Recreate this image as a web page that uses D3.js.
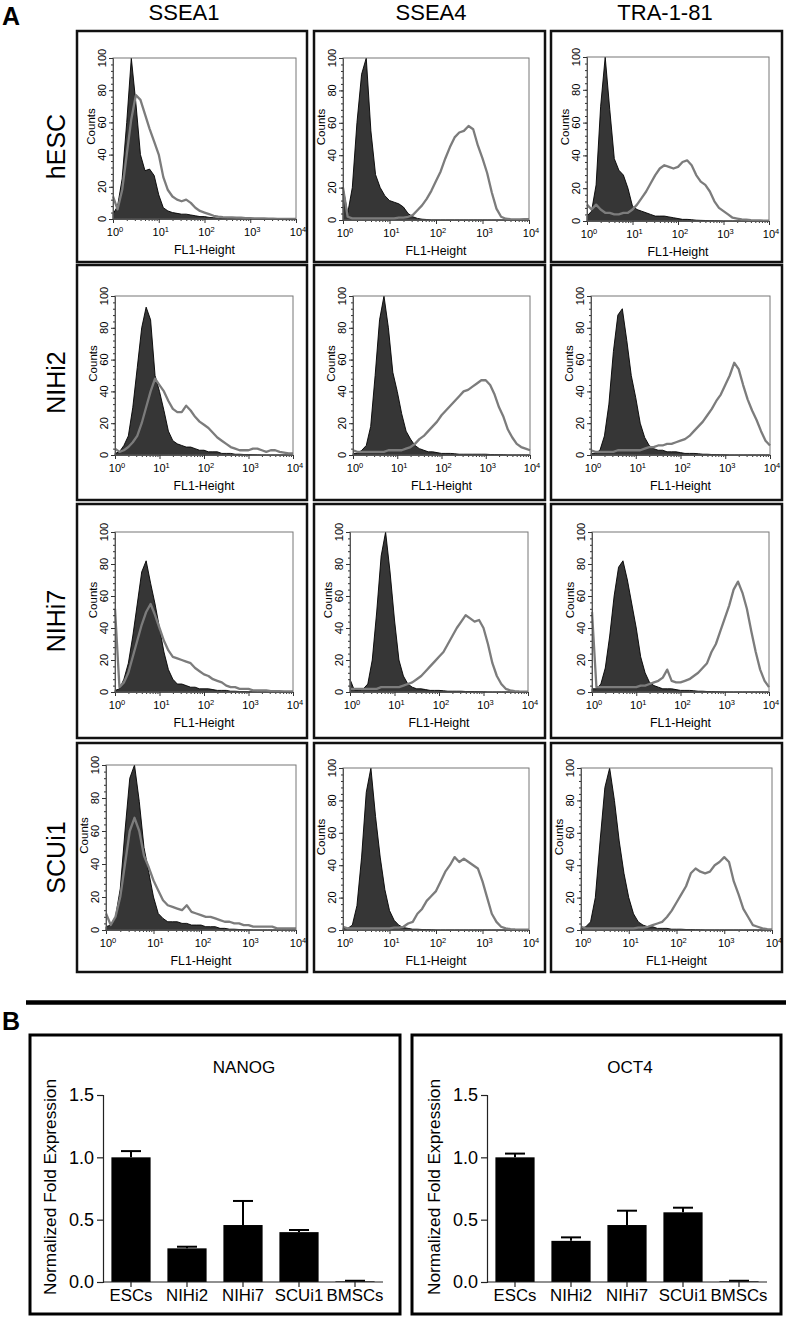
<!DOCTYPE html>
<html><head><meta charset="utf-8">
<script src="https://cdn.jsdelivr.net/npm/d3@7/dist/d3.min.js"></script>
<style>
body{margin:0;background:#fff}
svg{display:block}
text{font-family:"Liberation Sans",Arial,Helvetica,sans-serif;fill:#000}
</style>
</head><body>
<svg id="fig" width="787" height="1317"></svg>
<script>
// ---------------- DATA ----------------
const markers = ["SSEA1", "SSEA4", "TRA-1-81"];
const cellLines = ["hESC", "NIHi2", "NIHi7", "SCUi1"];
const decadeTicks = [1, 10, 100, 1000, 10000];
const decadeExp = ["0", "1", "2", "3", "4"];
const countTicks = [0, 20, 40, 60, 80, 100];
// bin centres, in decades of FL1-Height (10^d)
const binDecade = [0.0,0.1,0.2,0.3,0.4,0.5,0.6,0.7,0.8,0.9,1.0,1.1,1.2,1.3,1.4,1.5,1.6,1.7,1.8,1.9,2.0,
                   2.1,2.2,2.3,2.4,2.5,2.6,2.7,2.8,2.9,3.0,3.1,3.2,3.3,3.4,3.5,3.6,3.7,3.8,3.9,4.0];

// isotype control (filled) and stained (grey line) counts, per cell line x marker
const hESC_SSEA1_ctrl  = [3,8,25,60,100,72,40,30,31,27,15,7,5,4,3.5,3,3,2.5,2,1.5,1.5,1,0.8,0.5,0.4,0.3,0.2,0.2,0.1,0.1,0,0,0,0,0,0,0,0,0,0,0];
const hESC_SSEA1_stain = [14,6,18,40,62,77,74,65,56,48,40,26,18,14,12,11,12,10,7,5,4,3,2,1.5,1.2,1,1,0.8,0.8,0.6,0.5,0.4,0.3,0.3,0.2,0.2,0.1,0.1,0,0,0];
const hESC_SSEA4_ctrl  = [20,4,20,60,90,100,55,28,20,15,12,11,10,8,4,2,1,0.5,0.3,0,0,0,0,0,0,0,0,0,0,0,0,0,0,0,0,0,0,0,0,0,0];
const hESC_SSEA4_stain = [20,2,1,1,1,1,1,1,1,1,1,1,1.5,1.5,2,3,6,9,13,18,24,30,38,45,51,54,55,58,56,46,38,29,17,7,2,0.8,0.5,0.3,0.3,0.5,0.5];
const hESC_TRA_ctrl    = [3,6,22,70,100,68,38,31,28,20,9,7,6,5,4,3,3,3,2.5,2,1.5,1,1,0.8,0.5,0.4,0.3,0.2,0.2,0.1,0,0,0,0,0,0,0,0,0,0,0];
const hESC_TRA_stain   = [10,7,10,7,5,5,4,4,5,5,7,10,14,18,23,28,32,34,33,32,33,36,37,34,28,24,22,18,12,8,6,4,2,1.5,1,0.8,0.5,0.4,0.3,0.2,0.2];

const NIHi2_SSEA1_ctrl  = [1,2,6,12,30,55,80,93,85,50,40,28,15,9,7,6,5,5,4,3,3,2,2,2,1,1,1,0.5,0.5,0.3,0.3,0.2,0.1,0,0,0,0,0,0,0,0];
const NIHi2_SSEA1_stain = [4,2,3,5,8,12,20,30,40,48,44,40,34,29,27,27,31,28,24,21,19,17,14,11,9,7,5,4,3,3,3,4,4,3,2,3,3,2,1.5,1,1];
const NIHi2_SSEA4_ctrl  = [1,1,3,6,18,50,85,100,80,52,40,26,15,10,6,4,3,2,2,1.5,1,1,1,0.8,0.5,0.5,0.5,0.5,0.5,0.5,0.5,0.3,0.3,0.2,0.2,0,0,0,0,0,0];
const NIHi2_SSEA4_stain = [3,2,2,2,2,2,2,2,3,3,3,3,4,5,7,10,12,15,18,21,25,28,31,34,37,40,41,43,45,47,47,44,38,30,24,16,11,7,5,4,3];
const NIHi2_TRA_ctrl    = [1,1,3,12,32,65,88,92,72,50,36,20,11,6,4,3,3,2,2,2,1.5,1,1,1,0.8,0.5,0.5,0.3,0.3,0.2,0.1,0,0,0,0,0,0,0,0,0,0];
const NIHi2_TRA_stain   = [3,2,2,2,2,2,3,3,3,3,3,3,4,5,5,6,6,7,7,8,9,10,12,15,18,21,25,29,34,38,44,50,58,54,44,35,28,22,15,9,6];

const NIHi7_SSEA1_ctrl  = [1,2,8,18,35,55,75,82,68,55,40,25,14,8,5,5,4,3,3,2,2,2,1.5,1,1,1,0.5,0.5,0.3,0.3,0.2,0.1,0,0,0,0,0,0,0,0,0];
const NIHi7_SSEA1_stain = [52,3,6,12,22,32,42,50,55,48,40,32,26,22,21,20,19,18,15,13,11,10,8,7,6,4,3,3,2,2,2,1,1,1,1,0.5,0.5,0.5,0.3,0.3,0.3];
const NIHi7_SSEA4_ctrl  = [8,1,1,2,5,20,50,85,100,75,45,20,10,5,3,2,2,1.5,1,1,1,0.8,0.5,0.5,0.5,0.5,0.3,0.3,0.3,0.2,0.2,0,0,0,0,0,0,0,0,0,0];
const NIHi7_SSEA4_stain = [2,2,2,2,2,2,2,3,3,3,3,3,4,5,6,8,10,13,16,19,22,25,30,35,40,44,48,46,44,45,40,30,18,10,5,2,1,0.5,0.3,0.2,0.2];
const NIHi7_TRA_ctrl    = [2,2,5,15,35,60,78,82,70,55,40,22,12,6,4,3,2,2,2,1.5,1,1,1,0.8,0.5,0.5,0.3,0.3,0.2,0.1,0,0,0,0,0,0,0,0,0,0,0];
const NIHi7_TRA_stain   = [50,3,3,3,3,3,3,3,3,3,3,4,4,5,6,7,9,14,7,6,6,7,8,10,12,15,18,25,30,38,46,54,64,69,62,52,38,25,14,7,3];

const SCUi1_SSEA1_ctrl  = [2,3,8,25,60,92,100,78,50,35,20,10,7,5,5,5,4,4,3,3,3,2,2,2,1,1,0.5,0.5,0.3,0.2,0.1,0,0,0,0,0,0,0,0,0,0];
const SCUi1_SSEA1_stain = [10,3,8,20,40,60,68,60,45,38,30,24,18,15,14,13,12,15,11,10,9,8,8,7,6,5,5,4,4,3,3,2,2,2,2,2,1,1,1,1,1];
const SCUi1_SSEA4_ctrl  = [1,1,3,15,45,85,100,70,45,25,12,6,3,1.5,1,0.5,0.5,0.3,0.3,0.2,0,0,0,0,0,0,0,0,0,0,0,0,0,0,0,0,0,0,0,0,0];
const SCUi1_SSEA4_stain = [2,1,1,1,1,1,1,1,1,1,1,1.5,1.5,2,4,5,10,13,18,21,24,30,36,40,45,42,44,42,40,38,30,20,10,5,2,1,0.5,0.3,0.2,0.2,0.2];
const SCUi1_TRA_ctrl    = [1,2,5,20,55,88,100,80,55,35,20,10,5,3,2,2,1,1,1,0.5,0.5,0.5,0.3,0.3,0.2,0.1,0,0,0,0,0,0,0,0,0,0,0,0,0,0,0];
const SCUi1_TRA_stain   = [2,1,1,1,1,1,1,1,1,1,1,1,1.5,1.5,2,3,4,5,8,12,17,22,27,35,38,36,35,36,40,42,45,42,30,22,13,8,3,2,1,0.5,0.3];

// qPCR (panel B)
const qpcrGroups = ["ESCs", "NIHi2", "NIHi7", "SCUi1", "BMSCs"];
const qpcrTicks = [0.0, 0.5, 1.0, 1.5];
const nanogMean = [1.00, 0.27, 0.457, 0.40, 0.005];
const nanogErr  = [1.05, 0.283, 0.65, 0.417, 0.01];
const oct4Mean  = [1.00, 0.33, 0.457, 0.559, 0.005];
const oct4Err   = [1.03, 0.358, 0.572, 0.596, 0.01];

// ---------------- LAYOUT ----------------
const svg = d3.select("#fig");
const colBox = [[77, 307], [314, 545], [551, 782]];
const rowBox = [[31, 262], [265, 500], [504, 738], [743, 972]];
// plot rectangles [left, right, top, bottom] for each panel (row-major)
const plotRect = [
  [[113, 296, 58, 219], [343, 529, 58, 220], [587, 769, 57, 221]],
  [[115, 293, 296, 455], [353, 530, 296, 455], [591, 770, 296, 455]],
  [[115, 293, 532, 692], [350, 528, 532, 692], [592, 769, 532, 692]],
  [[106, 296, 765, 930], [343, 529, 768, 930], [581, 772, 768, 930]]
];
const series = [
  [[hESC_SSEA1_ctrl, hESC_SSEA1_stain], [hESC_SSEA4_ctrl, hESC_SSEA4_stain], [hESC_TRA_ctrl, hESC_TRA_stain]],
  [[NIHi2_SSEA1_ctrl, NIHi2_SSEA1_stain], [NIHi2_SSEA4_ctrl, NIHi2_SSEA4_stain], [NIHi2_TRA_ctrl, NIHi2_TRA_stain]],
  [[NIHi7_SSEA1_ctrl, NIHi7_SSEA1_stain], [NIHi7_SSEA4_ctrl, NIHi7_SSEA4_stain], [NIHi7_TRA_ctrl, NIHi7_TRA_stain]],
  [[SCUi1_SSEA1_ctrl, SCUi1_SSEA1_stain], [SCUi1_SSEA4_ctrl, SCUi1_SSEA4_stain], [SCUi1_TRA_ctrl, SCUi1_TRA_stain]]
];

// panel letters
svg.append("text").attr("x", 2).attr("y", 25).attr("font-size", 25).attr("font-weight", "bold").text("A");
svg.append("text").attr("x", 2).attr("y", 1030).attr("font-size", 25).attr("font-weight", "bold").text("B");

// column headers
const headerX = [184, 431, 665];
markers.forEach((m, i) => {
  svg.append("text").attr("x", headerX[i]).attr("y", 20).attr("text-anchor", "middle")
    .attr("font-size", 22).text(m);
});

// row labels
cellLines.forEach((c, r) => {
  const cy = (rowBox[r][0] + rowBox[r][1]) / 2;
  svg.append("text").attr("transform", `translate(65,${cy}) rotate(-90)`)
    .attr("text-anchor", "middle").attr("font-size", 25).text(c);
});

// minor log ticks
const minorLog = [];
[1, 10, 100, 1000].forEach(b => { for (let k = 2; k <= 9; k++) minorLog.push(b * k); });
const minorCounts = d3.range(0, 101, 4);

for (let r = 0; r < 4; r++) {
  for (let c = 0; c < 3; c++) {
    const [L, R, T, B] = plotRect[r][c];
    // outer box
    svg.append("rect").attr("x", colBox[c][0]).attr("y", rowBox[r][0])
      .attr("width", colBox[c][1] - colBox[c][0]).attr("height", rowBox[r][1] - rowBox[r][0])
      .attr("fill", "none").attr("stroke", "#111").attr("stroke-width", 2.5);

    const g = svg.append("g");
    const x = d3.scaleLog().domain([1, 10000]).range([L, R]);
    const y = d3.scaleLinear().domain([0, 100]).range([B, T]);
    const [ctrl, stain] = series[r][c];

    const area = d3.area().x((d, i) => x(Math.pow(10, binDecade[i]))).y0(B).y1(d => y(d));
    const line = d3.line().x((d, i) => x(Math.pow(10, binDecade[i]))).y(d => y(d));

    g.append("path").datum(ctrl).attr("d", area)
      .attr("fill", "#363636").attr("stroke", "#000").attr("stroke-width", 0.9);
    g.append("path").datum(stain).attr("d", line)
      .attr("fill", "none").attr("stroke", "#7c7c7c").attr("stroke-width", 2.3)
      .attr("stroke-linejoin", "round");

    // frame
    g.append("rect").attr("x", L).attr("y", T).attr("width", R - L).attr("height", B - T)
      .attr("fill", "none").attr("stroke", "#777").attr("stroke-width", 1);

    // x axis ticks
    const xa = g.append("g").attr("transform", `translate(0,${B})`);
    xa.call(d3.axisBottom(x).tickValues(minorLog).tickSize(2).tickFormat(""))
      .call(s => s.select(".domain").remove());
    xa.selectAll("line").attr("stroke", "#333");
    const xb = g.append("g").attr("transform", `translate(0,${B})`);
    xb.call(d3.axisBottom(x).tickValues(decadeTicks).tickSize(4).tickFormat(""))
      .call(s => s.select(".domain").attr("stroke", "#555"));
    xb.selectAll("line").attr("stroke", "#333");
    decadeTicks.forEach((v, i) => {
      const t = g.append("text").attr("x", x(v) + 2).attr("y", B + 17).attr("text-anchor", "middle")
        .attr("font-size", 11);
      t.append("tspan").text("10");
      t.append("tspan").attr("dy", -4).attr("font-size", 7.5).text(decadeExp[i]);
    });
    g.append("text").attr("x", (L + R) / 2).attr("y", B + 35).attr("text-anchor", "middle")
      .attr("font-size", 12.3).text("FL1-Height");

    // y axis ticks
    const ya = g.append("g").attr("transform", `translate(${L},0)`);
    ya.call(d3.axisLeft(y).tickValues(minorCounts).tickSize(2).tickFormat(""))
      .call(s => s.select(".domain").remove());
    ya.selectAll("line").attr("stroke", "#333");
    const yb = g.append("g").attr("transform", `translate(${L},0)`);
    yb.call(d3.axisLeft(y).tickValues(countTicks).tickSize(4).tickFormat(""))
      .call(s => s.select(".domain").attr("stroke", "#555"));
    yb.selectAll("line").attr("stroke", "#333");
    countTicks.forEach(v => {
      g.append("text").attr("transform", `translate(${L - 7},${y(v)}) rotate(-90)`)
        .attr("text-anchor", "middle").attr("font-size", 11.2).text(v);
    });
    g.append("text").attr("transform", `translate(${L - 18},${(T + B) / 2 - 12}) rotate(-90)`)
      .attr("text-anchor", "middle").attr("font-size", 11.5).text("Counts");
  }
}

// separator line
svg.append("line").attr("x1", 26).attr("x2", 786).attr("y1", 1002.5).attr("y2", 1002.5)
  .attr("stroke", "#000").attr("stroke-width", 4.5);

// ---------------- PANEL B ----------------
function barPanel(box, axisX, title, titleX, means, errs) {
  svg.append("rect").attr("x", box[0]).attr("y", box[1]).attr("width", box[2] - box[0])
    .attr("height", box[3] - box[1]).attr("fill", "none").attr("stroke", "#000").attr("stroke-width", 3);
  const x = d3.scaleBand().domain(qpcrGroups).range([axisX, axisX + 280]).paddingInner(0.3).paddingOuter(0.15);
  const y = d3.scaleLinear().domain([0, 1.5]).range([1282, 1095]);
  const g = svg.append("g");
  // bars
  g.selectAll("rect.bar").data(qpcrGroups).enter().append("rect")
    .attr("x", d => x(d)).attr("width", x.bandwidth())
    .attr("y", (d, i) => y(means[i])).attr("height", (d, i) => y(0) - y(means[i]))
    .attr("fill", "#000");
  // error bars (upper)
  qpcrGroups.forEach((d, i) => {
    const cx = x(d) + x.bandwidth() / 2;
    g.append("line").attr("x1", cx).attr("x2", cx).attr("y1", y(means[i])).attr("y2", y(errs[i]))
      .attr("stroke", "#000").attr("stroke-width", 2);
    g.append("line").attr("x1", cx - 10).attr("x2", cx + 10).attr("y1", y(errs[i])).attr("y2", y(errs[i]))
      .attr("stroke", "#000").attr("stroke-width", 2);
  });
  // axes
  const ya = g.append("g").attr("transform", `translate(${axisX},0)`)
    .call(d3.axisLeft(y).tickValues(qpcrTicks).tickSize(6).tickPadding(3).tickFormat(d3.format(".1f")));
  ya.selectAll("text").attr("font-size", 18).style("font-family", '"Liberation Sans",Arial,sans-serif');
  ya.selectAll("line,path").attr("stroke", "#222").attr("stroke-width", 1.2);
  const xa = g.append("g").attr("transform", `translate(0,${y(0)})`)
    .call(d3.axisBottom(x).tickSize(5).tickPadding(2).tickSizeOuter(0));
  xa.select(".domain").attr("d", `M${axisX},0H${axisX + 280}`);
  xa.selectAll("text").attr("font-size", 16.8).style("font-family", '"Liberation Sans",Arial,sans-serif');
  xa.selectAll("line,path").attr("stroke", "#222").attr("stroke-width", 1.2);
  g.append("text").attr("x", titleX).attr("y", 1073).attr("text-anchor", "middle")
    .attr("font-size", 17).text(title);
  g.append("text").attr("transform", `translate(${axisX - 47},1187) rotate(-90)`)
    .attr("text-anchor", "middle").attr("font-size", 17.3).text("Normalized Fold Expression");
}
barPanel([30, 1035, 400, 1314], 103, "NANOG", 244, nanogMean, nanogErr);
barPanel([412, 1035, 781, 1314], 487, "OCT4", 630, oct4Mean, oct4Err);
</script>
</body></html>
